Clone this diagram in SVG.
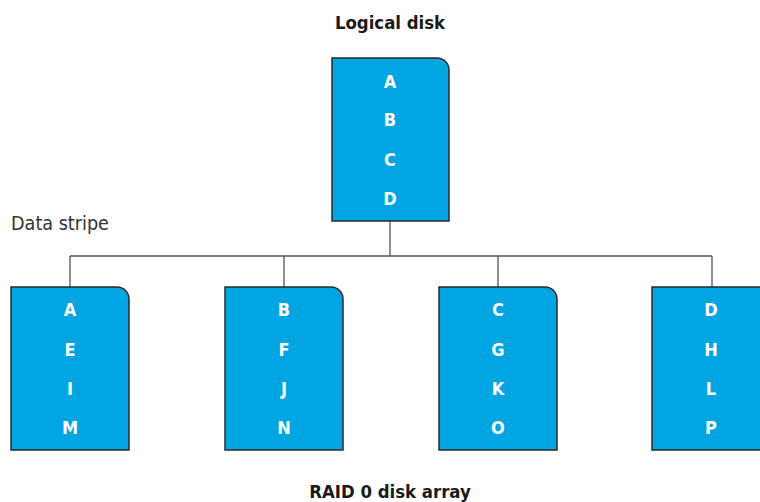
<svg xmlns="http://www.w3.org/2000/svg" width="760" height="502" viewBox="0 0 760 502">
<style>
.disk{fill:#00a5e1;stroke:#2a2a2a;stroke-width:1.5}
.lt{font-family:"DejaVu Sans",sans-serif;font-stretch:condensed;font-weight:bold;font-size:18px;fill:#fff;text-anchor:middle}
.ttl{font-family:"DejaVu Sans",sans-serif;font-stretch:condensed;font-weight:bold;font-size:18.4px;fill:#1a1a1a;text-anchor:middle}
.lbl{font-family:"DejaVu Sans",sans-serif;font-stretch:condensed;font-size:19.6px;fill:#333}
.con{fill:none;stroke:#555;stroke-width:1.3}
</style>
<text class="ttl" x="390" y="29">Logical disk</text>
<text class="lbl" x="11" y="230">Data stripe</text>
<text class="ttl" x="390" y="498">RAID 0 disk array</text>
<g id="connectors">
<path class="con" d="M390 221V256M70 256H712M70 256V287M284 256V287M498 256V287M712 256V287"/>
</g>
<g id="logical">
<path class="disk" d="M332 58H437A12 12 0 0 1 449 70V221H332Z"/>
<text class="lt" x="390" y="88">A</text>
<text class="lt" x="390" y="126">B</text>
<text class="lt" x="390" y="166">C</text>
<text class="lt" x="390" y="205">D</text>
</g>
<g id="disk1">
<path class="disk" d="M11 287H117A12 12 0 0 1 129 299V450H11Z"/>
<text class="lt" x="70" y="316">A</text>
<text class="lt" x="70" y="356">E</text>
<text class="lt" x="70" y="395">I</text>
<text class="lt" x="70" y="434">M</text>
</g>
<g id="disk2">
<path class="disk" d="M225 287H331A12 12 0 0 1 343 299V450H225Z"/>
<text class="lt" x="284" y="316">B</text>
<text class="lt" x="284" y="356">F</text>
<text class="lt" x="284" y="395">J</text>
<text class="lt" x="284" y="434">N</text>
</g>
<g id="disk3">
<path class="disk" d="M439 287H545A12 12 0 0 1 557 299V450H439Z"/>
<text class="lt" x="498" y="316">C</text>
<text class="lt" x="498" y="356">G</text>
<text class="lt" x="498" y="395">K</text>
<text class="lt" x="498" y="434">O</text>
</g>
<g id="disk4">
<path class="disk" d="M652 287H759A12 12 0 0 1 771 299V450H652Z"/>
<text class="lt" x="711" y="316">D</text>
<text class="lt" x="711" y="356">H</text>
<text class="lt" x="711" y="395">L</text>
<text class="lt" x="711" y="434">P</text>
</g>
</svg>
